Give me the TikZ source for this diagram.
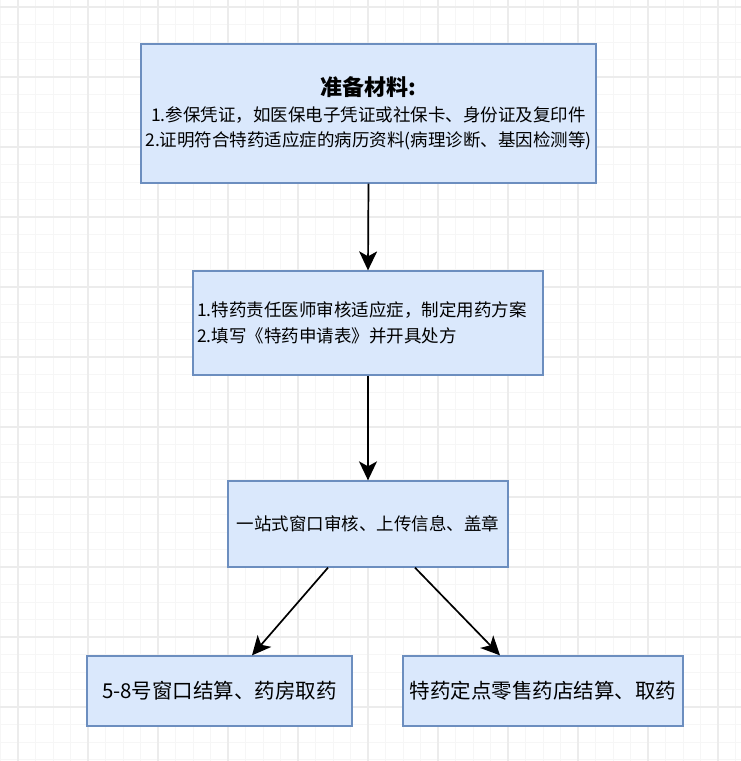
\documentclass[tikz,border=0pt]{standalone}
\usepackage{fontspec}
\setmainfont{Noto Sans CJK SC}
\usetikzlibrary{arrows.meta}
\definecolor{boxfill}{HTML}{DAE8FC}
\definecolor{boxline}{HTML}{6C8EBF}
\definecolor{gridminor}{HTML}{F6F6F6}
\definecolor{gridmajor}{HTML}{ECECEC}
\tikzset{
  box/.style={draw=boxline, fill=boxfill, line width=1.3pt, inner sep=0pt, align=center, font=\fontsize{17.5}{25}\selectfont},
  flow/.style={draw=black, line width=1.7pt, -{Stealth[length=19pt,width=18pt,inset=5pt]}},
}
\begin{document}
\begin{tikzpicture}[x=1pt,y=-1pt]
\useasboundingbox (0,0) rectangle (741,761);
\fill[white] (0,0) rectangle (741,761);
% grid
\foreach \i in {0,...,43} {
  \draw[gridminor, line width=0.8pt] ({0.5+17.5*\i},0) -- ({0.5+17.5*\i},761);
  \draw[gridminor, line width=0.8pt] (0,{7+17.5*\i}) -- (741,{7+17.5*\i});
}
\foreach \i in {0,...,10} {
  \draw[gridmajor, line width=1.2pt] ({18+70*\i},0) -- ({18+70*\i},761);
  \draw[gridmajor, line width=1.2pt] (0,{7+70*\i}) -- (741,{7+70*\i});
}
% boxes
\node[box, minimum width=455pt, minimum height=139pt] (b1) at (368.5,113.5)
  {{\fontsize{22}{27}\selectfont\bfseries 准备材料:}\\[1pt]
   1.参保凭证，如医保电子凭证或社保卡、身份证及复印件\\
   2.证明符合特药适应症的病历资料(病理诊断、基因检测等)};
\node[box, minimum width=350pt, minimum height=104pt, inner xsep=4pt, text width=342pt, align=left, font=\fontsize{17.5}{26}\selectfont] (b2) at (368,323)
  {1.特药责任医师审核适应症，制定用药方案\\
   2.填写《特药申请表》并开具处方};
\node[box, minimum width=280pt, minimum height=86pt] (b3) at (368,524)
  {一站式窗口审核、上传信息、盖章};
\node[box, minimum width=265pt, minimum height=70pt, font=\fontsize{20.5}{25}\selectfont] (b4) at (219.5,691)
  {5-8号窗口结算、药房取药};
\node[box, minimum width=280pt, minimum height=70pt, font=\fontsize{20.5}{25}\selectfont] (b5) at (543,691)
  {特药定点零售药店结算、取药};
% connectors
\draw[flow] (b1.south) -- (b2.north);
\draw[flow] (b2.south) -- (b3.north);
\draw[flow] ([xshift=-40pt]b3.south) -- ([xshift=32.5pt]b4.north);
\draw[flow] ([xshift=47pt]b3.south) -- ([xshift=-43pt]b5.north);
\end{tikzpicture}
\end{document}
